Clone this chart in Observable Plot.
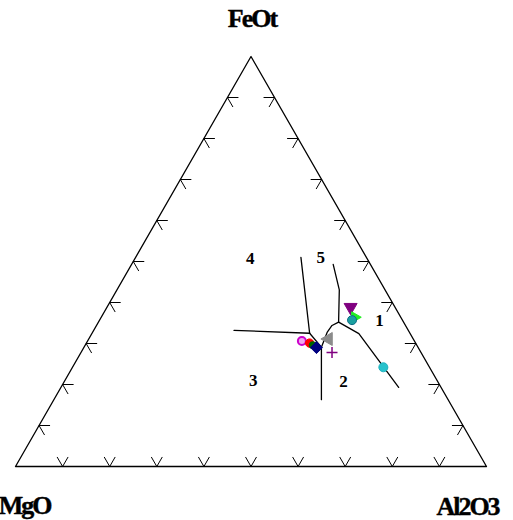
<!DOCTYPE html>
<html>
<head>
<meta charset="utf-8">
<script src="https://cdn.jsdelivr.net/npm/d3@7"></script>
<script src="https://cdn.jsdelivr.net/npm/@observablehq/plot@0.6"></script>
<style>
  html, body { margin: 0; padding: 0; background: #fff; }
</style>
</head>
<body>
<div id="chart"></div>
<script>
// Corner labels: apex, left, right
const apexLabels = ["FeOt", "MgO", "Al2O3"];
// Tick positions along each side (percent)
const tickValues = [10, 20, 30, 40, 50, 60, 70, 80, 90];

// Field boundaries, each a polyline of [FeOt, MgO, Al2O3] in percent
const boundary1 = [[33.2, 37.0, 29.8], [32.5, 21.3, 46.2]];
const boundary2 = [[51.0, 13.9, 35.1], [32.5, 21.3, 46.2]];
const boundary3 = [[32.5, 21.3, 46.2], [29.1, 20.5, 50.4], [16.3, 26.9, 56.8]];
const boundary4 = [[49.3, 7.9, 42.8], [43.1, 9.7, 47.2], [35.2, 13.8, 51.0]];
const boundary5 = [[35.2, 13.8, 51.0], [34.4, 15.6, 50.0], [32.8, 17.4, 49.8], [29.1, 20.5, 50.4]];
const boundary6 = [[35.2, 13.8, 51.0], [32.4, 10.9, 56.7], [19.3, 9.0, 71.7]];

// Field numbers and where they sit
const fieldNames = ["1", "2", "3", "4", "5"];
const fieldFeOt  = [35.6, 20.7, 21.0, 50.7, 51.0];
const fieldMgO   = [4.9, 20.0, 39.0, 24.8, 9.7];
const fieldAl2O3 = [59.5, 59.3, 40.0, 24.5, 39.3];

// Sample compositions (percent)
const sampleIds  = ["S1", "S2", "S3", "S4", "S5", "S6", "S7", "S8", "S9", "S10"];
const sampleFeOt = [30.6, 30.1, 29.6, 29.0, 31.1, 27.8, 38.5, 36.4, 35.7, 24.2];
const sampleMgO  = [23.9, 22.5, 22.1, 21.6, 18.3, 18.9, 9.6, 9.5, 10.7, 9.8];
const sampleAl2O3 = [45.5, 47.4, 48.3, 49.4, 50.6, 53.3, 51.9, 54.1, 53.6, 66.0];

// Ternary -> cartesian (x: 0..1 along the base, y: FeOt fraction)
function project(fe, mg, al) {
  const s = fe + mg + al;
  return {x: (al + fe / 2) / s, y: fe / s};
}

// Pixel frame of the triangle
const X0 = 15, X1 = 486, YB = 466, YT = 56;
const kx = X1 - X0, ky = YB - YT; // pixels per unit

// Custom marker shapes
const sym = {
  triDown: {draw(c, size) { const r = Math.sqrt(size / Math.PI);
    c.moveTo(-r, -0.8 * r); c.lineTo(r, -0.8 * r); c.lineTo(0, 0.95 * r); c.closePath(); }},
  triRight: {draw(c, size) { const r = Math.sqrt(size / Math.PI);
    c.moveTo(-0.8 * r, -r); c.lineTo(-0.8 * r, r); c.lineTo(0.95 * r, 0); c.closePath(); }},
  triLeft: {draw(c, size) { const r = Math.sqrt(size / Math.PI);
    c.moveTo(0.8 * r, -r); c.lineTo(0.8 * r, r); c.lineTo(-0.95 * r, 0); c.closePath(); }},
  diamond: {draw(c, size) { const r = Math.sqrt(size / Math.PI);
    c.moveTo(0, -r); c.lineTo(r, 0); c.lineTo(0, r); c.lineTo(-r, 0); c.closePath(); }},
  plus: {draw(c, size) { const r = Math.sqrt(size / Math.PI);
    c.moveTo(-r, 0); c.lineTo(r, 0); c.moveTo(0, -r); c.lineTo(0, r); }}
};

// Marker style per sample
const sampleStyle = {
  S1:  {symbol: "circle", r: 4, fill: "#f0a8f0", stroke: "#cc00cc", sw: 2},
  S2:  {symbol: "circle", r: 4.2, fill: "#ff0000", stroke: "#ff0000", sw: 1},
  S3:  {symbol: "circle", r: 3.5, fill: "#006400", stroke: "#006400", sw: 1},
  S4:  {symbol: sym.diamond, r: 6, fill: "#000080", stroke: "#000080", sw: 1},
  S5:  {symbol: sym.triLeft, r: 6.5, fill: "#8c8c8c", stroke: "#8c8c8c", sw: 1},
  S6:  {symbol: sym.plus, r: 5.5, fill: "none", stroke: "#800080", sw: 1.5},
  S7:  {symbol: sym.triDown, r: 6.5, fill: "#800080", stroke: "#800080", sw: 1},
  S8:  {symbol: sym.triRight, r: 5.5, fill: "#22ee22", stroke: "#22ee22", sw: 1},
  S9:  {symbol: "circle", r: 4.5, fill: "#1aa0a0", stroke: "#0c6c86", sw: 1},
  S10: {symbol: "circle", r: 4.5, fill: "#27c2cc", stroke: "#1fb3c0", sw: 1}
};

// Triangle outline
const corners = [[0, 100, 0], [0, 0, 100], [100, 0, 0], [0, 100, 0]].map(([fe, mg, al]) => project(fe, mg, al));

// Chevron ticks: two arms per tick, pixel directions converted to data units
const L = 11;
const ticks = [];
function addArms(p, dirs) {
  for (const [dx, dy] of dirs) ticks.push({x1: p.x, y1: p.y, x2: p.x + dx * L / kx, y2: p.y - dy * L / ky});
}
const c30 = Math.cos(Math.PI / 6), s30 = Math.sin(Math.PI / 6);
for (const t of tickValues) {
  addArms(project(0, 100 - t, t), [[s30, -c30], [-s30, -c30]]);      // base
  addArms(project(t, 100 - t, 0), [[1, 0], [s30, c30]]);             // left side
  addArms(project(t, 0, 100 - t), [[-1, 0], [-s30, c30]]);           // right side
}

// Boundary polylines
const boundaries = [];
[boundary1, boundary2, boundary3, boundary4, boundary5, boundary6].forEach((b, i) =>
  b.forEach(([fe, mg, al]) => boundaries.push({id: i, ...project(fe, mg, al)})));

// Field number labels
const fields = fieldNames.map((name, i) => ({name, ...project(fieldFeOt[i], fieldMgO[i], fieldAl2O3[i])}));

// Samples
const samples = sampleIds.map((id, i) => ({id, ...project(sampleFeOt[i], sampleMgO[i], sampleAl2O3[i])}));

const serifBold = {fontFamily: "'Liberation Serif', 'Times New Roman', serif", fontWeight: "bold"};
const cornerText = {x: "x", y: "y", text: "label", lineAnchor: "bottom", fontSize: 26, ...serifBold,
  fill: "#000", stroke: "#000", strokeWidth: 0.4};

const marks = [
  Plot.line(corners, {x: "x", y: "y", stroke: "#000", strokeWidth: 1.3}),
  Plot.link(ticks, {x1: "x1", y1: "y1", x2: "x2", y2: "y2", stroke: "#000", strokeWidth: 1}),
  Plot.line(boundaries, {x: "x", y: "y", z: "id", stroke: "#000", strokeWidth: 1.3}),
  Plot.text(fields, {x: "x", y: "y", text: "name", fontSize: 17, ...serifBold, fill: "#000"}),
  ...samples.map(s => {
    const st = sampleStyle[s.id];
    return Plot.dot([s], {x: "x", y: "y", r: st.r, symbol: st.symbol, fill: st.fill, stroke: st.stroke, strokeWidth: st.sw});
  }),
  Plot.text([{label: apexLabels[0], ...project(100, 0, 0)}], {...cornerText, dy: -30, dx: 1}),
  Plot.text([{label: apexLabels[1], ...project(0, 100, 0)}], {...cornerText, dy: 47, dx: 9}),
  Plot.text([{label: apexLabels[2], ...project(0, 0, 100)}], {...cornerText, dy: 48, dx: -19})
];

const chart = Plot.plot({
  width: 513,
  height: 520,
  margin: 0,
  style: {background: "#fff", overflow: "visible"},
  x: {domain: [0, 1], range: [X0, X1], axis: null},
  y: {domain: [0, 1], range: [YB, YT], axis: null},
  marks
});

// Tighten corner label spacing
d3.select(chart).selectAll("text").filter(function() {
  return apexLabels.includes(this.textContent);
}).style("letter-spacing", "-2px");

document.getElementById("chart").appendChild(chart);
</script>
</body>
</html>
